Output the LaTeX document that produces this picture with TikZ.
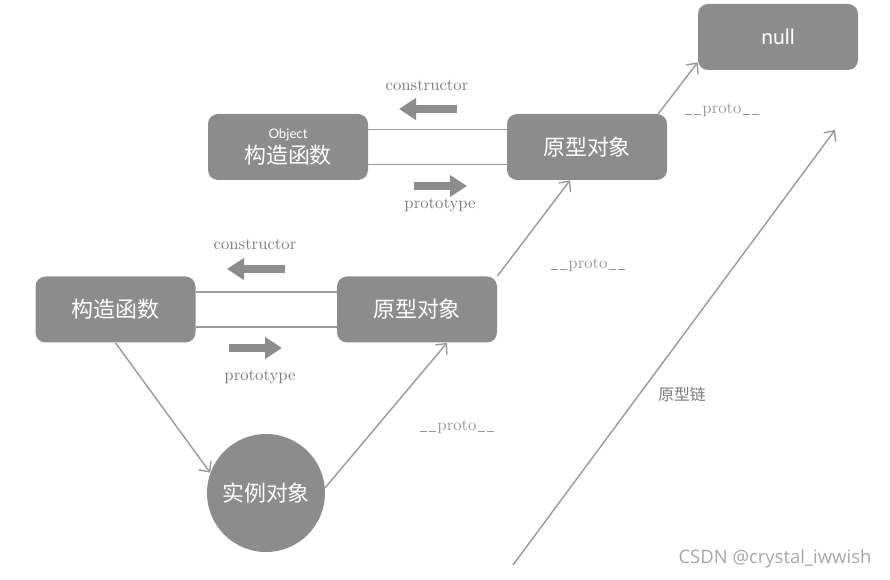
\documentclass[tikz,border=0pt]{standalone}
\usepackage{fontspec}
\usepackage{tikz}
\usetikzlibrary{arrows, arrows.meta}
\newfontfamily\cjk{Noto Sans CJK SC}
\newfontfamily\latosans{Lato}
\newfontfamily\marksans{Open Sans}
\definecolor{boxgray}{HTML}{8C8C8C}
\definecolor{linegray}{HTML}{999999}
\definecolor{labelgray}{HTML}{7A7A7A}
\newcommand{\ubar}{\kern0.7pt\rule[-1pt]{4pt}{0.45pt}\kern0.7pt}
\newcommand{\protoname}{\ubar\ubar proto\ubar\ubar}
\tikzset{
	objbox/.style={draw=none, fill=boxgray, rounded corners=0.2cm, minimum width=3.2cm, minimum height=1.32cm, text=white, align=center, font=\cjk\fontsize{12.5}{15}\selectfont},
	instcircle/.style={circle, fill=boxgray, minimum size=2.36cm, inner sep=0pt, text=white, font=\cjk\fontsize{12.5}{15}\selectfont},
	link/.style={draw=linegray, line width=0.8pt},
	flow/.style={draw=boxgray, line width=4.5pt, -{Triangle[length=0.34cm, width=0.42cm]}},
	label/.style={text=labelgray, font=\fontsize{9.5}{11}\selectfont},
	protolabel/.style={text=labelgray!80, font=\fontsize{9.5}{11}\selectfont}
}

\begin{document}
\begin{tikzpicture}[>={Straight Barb[length=1.6mm, width=3mm]}]
	\useasboundingbox (0,0) rectangle (17.8,11.6);
	
	%boxes
	\node[objbox] (objctor)  at (5.76,8.66)  {{\latosans\fontsize{7.5}{8}\selectfont Object}\\[-1pt]构造函数};	%Object constructor
	\node[objbox] (objproto) at (11.74,8.66) {原型对象};
	\node[objbox, font=\latosans\fontsize{12}{14}\selectfont] (null) at (15.56,10.86) {null};
	\node[objbox] (ctor)     at (2.31,5.41)  {构造函数};
	\node[objbox] (proto)    at (8.34,5.41)  {原型对象};
	\node[instcircle] (inst) at (5.32,1.74)  {实例对象};
	\coordinate (chainstart) at (10.26,0.3);
	\coordinate (chainend)   at (16.7,9.0);
	
	%connectors
	\draw[link] ([yshift=0.35cm]objctor.east)  -- ([yshift=0.35cm]objproto.west);
	\draw[link] ([yshift=-0.35cm]objctor.east) -- ([yshift=-0.35cm]objproto.west);
	\draw[link] ([yshift=0.35cm]ctor.east)     -- ([yshift=0.35cm]proto.west);
	\draw[link] ([yshift=-0.35cm]ctor.east)    -- ([yshift=-0.35cm]proto.west);
	\draw[link,->] ([xshift=-0.18cm]objproto.north east) -- ([yshift=0.16cm]null.south west);
	\draw[link,->] (proto.north east) -- ([xshift=-0.34cm]objproto.south);
	\draw[link,->] (ctor.south) -- (inst.160);
	\draw[link,->] (inst.5) -- ([xshift=0.6cm]proto.south);
	\draw[link,->] (chainstart) -- (chainend);
	
	%block arrows
	\draw[flow] (9.14,9.42) -- (7.98,9.42);
	\draw[flow] (8.28,7.88) -- (9.34,7.88);
	\draw[flow] (5.7,6.22)  -- (4.54,6.22);
	\draw[flow] (4.58,4.64) -- (5.64,4.64);
	
	%labels
	\node[label] (topcons)  at (8.54,9.9)  {constructor};
	\node[label] (topprot)  at (8.8,7.5)   {prototype};
	\node[label] (botcons)  at (5.1,6.72)  {constructor};
	\node[label] (botprot)  at (5.2,4.06)  {prototype};
	\node[protolabel] (nullproto) at (14.44,9.4) {\protoname};
	\node[protolabel] (midproto)  at (11.76,6.3) {\protoname};
	\node[protolabel] (lowproto)  at (9.14,3.06) {\protoname};
	\node[text=labelgray, font=\cjk\fontsize{9}{11}\selectfont] (chain) at (13.64,3.72) {原型链};
	\node[text=black!35, font=\marksans\fontsize{10.5}{12}\selectfont] (mark) at (15.5,0.42) {CSDN @crystal\_iwwish};
	%\draw[help lines] (0,0) grid (18,12);
\end{tikzpicture}
\end{document}
